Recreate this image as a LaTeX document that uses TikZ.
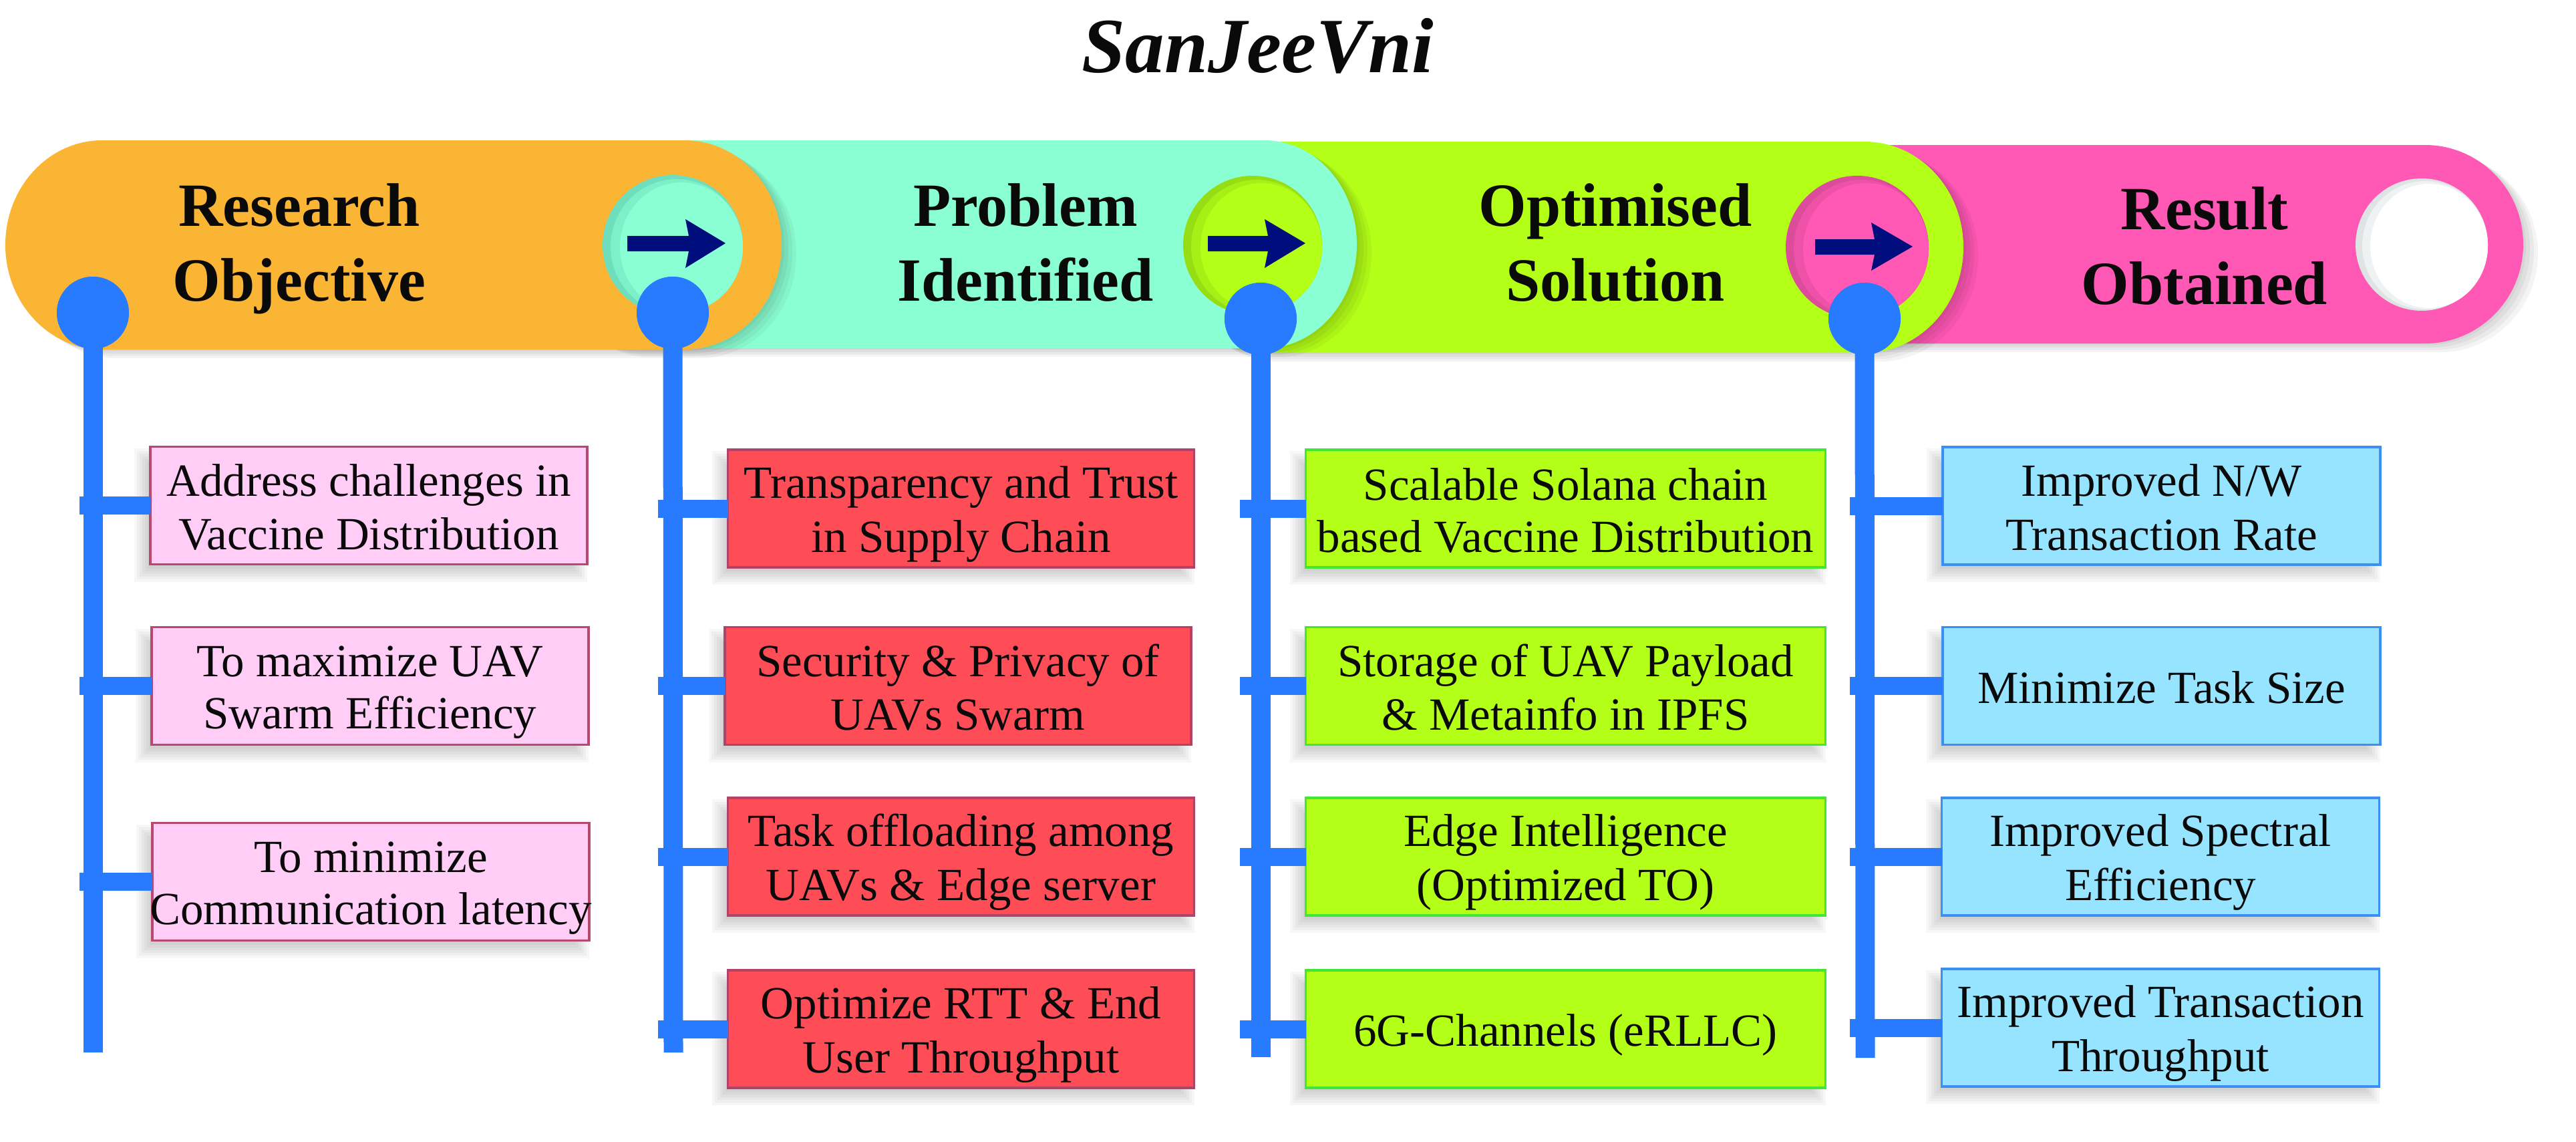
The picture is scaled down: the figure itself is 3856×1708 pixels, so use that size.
\documentclass[tikz,border=0pt]{standalone}
\usepackage{fontspec}
\setmainfont{Liberation Serif}
\pgfdeclarelayer{bglayer}
\pgfdeclarelayer{shadowlayer}
\pgfsetlayers{bglayer,shadowlayer,main}
\definecolor{orangeC}{RGB}{251,181,53}
\definecolor{tealC}{RGB}{139,255,212}
\definecolor{tealM}{RGB}{126,240,201}
\definecolor{tealD}{RGB}{110,222,188}
\definecolor{limeC}{RGB}{180,255,23}
\definecolor{limeM}{RGB}{166,240,21}
\definecolor{limeD}{RGB}{150,222,20}
\definecolor{pinkC}{RGB}{255,88,181}
\definecolor{pinkM}{RGB}{238,82,168}
\definecolor{pinkD}{RGB}{220,76,155}
\definecolor{holeM}{RGB}{238,242,242}
\definecolor{holeD}{RGB}{222,228,228}
\definecolor{pinC}{RGB}{40,123,255}
\definecolor{navyC}{RGB}{0,14,125}
\definecolor{fillA}{RGB}{255,205,246}
\definecolor{drawA}{RGB}{184,72,112}
\definecolor{fillB}{RGB}{255,77,88}
\definecolor{drawB}{RGB}{178,66,104}
\definecolor{fillC}{RGB}{180,255,23}
\definecolor{drawC}{RGB}{64,232,52}
\definecolor{fillD}{RGB}{150,228,255}
\definecolor{drawD}{RGB}{60,142,242}
\definecolor{txtC}{RGB}{10,10,10}
% pill: lcx rcx top bot rx ry style
\newcommand{\pillshape}[7]{%
  \path[#7] (#1,#3) -- (#2,#3) arc[start angle=-90,end angle=90,x radius=#5,y radius=#6]
    -- (#1,#4) arc[start angle=90,end angle=270,x radius=#5,y radius=#6] -- cycle;}
\newcommand{\pillshadow}[6]{%
  \foreach \s in {4,10,16,22}{%
    \begin{scope}[shift={(\s,0.6*\s)}]\pillshape{#1}{#2}{#3}{#4}{#5}{#6}{fill=black,opacity=0.045}\end{scope}}}
\newcommand{\boxshadow}[1]{%
  \begin{pgfonlayer}{shadowlayer}
  \foreach \e in {0,4,...,20}{%
    \fill[black,opacity=0.03] ([shift={(-4-\e,6+\e)}]#1.south west) rectangle ([shift={(-20+\e,22-\e)}]#1.north east);}
  \end{pgfonlayer}}
\newcommand{\bs}{\rule[-13pt]{0pt}{78pt}}
\newcommand{\hs}{\rule[-28pt]{0pt}{112pt}}
\begin{document}
\begin{tikzpicture}[x=1pt,y=-1pt,
  hdr/.style={align=center,inner sep=0pt,text=txtC,font=\fontsize{92}{112}\selectfont\bfseries},
  itembox/.style={draw,line width=3.5pt,minimum height=176pt,inner sep=0pt,outer sep=0pt,
     align=center,text=txtC,font=\fontsize{69}{78}\selectfont},
  boxA/.style={itembox,fill=fillA,draw=drawA,minimum width=654pt},
  boxB/.style={itembox,fill=fillB,draw=drawB,minimum width=698pt},
  boxC/.style={itembox,fill=fillC,draw=drawC,minimum width=778pt},
  boxD/.style={itembox,fill=fillD,draw=drawD,minimum width=655pt},
  pindot/.style={circle,fill=pinC,minimum size=108pt,inner sep=0pt,outer sep=0pt},
  vline/.style={draw=pinC,line width=29pt},
  stub/.style={draw=pinC,line width=27pt},
  headarrow/.style={fill=navyC}]
\useasboundingbox (0,0) rectangle (3856,1708);
\begin{pgfonlayer}{bglayer}
\fill[white] (0,0) rectangle (3856,1708);
\end{pgfonlayer}

% ---------- title ----------
\node[anchor=base,text=txtC,font=\fontsize{117}{130}\selectfont\bfseries\itshape] (title) at (1883,108) {SanJeeVni};

% ---------- pink tube ----------
\pillshadow{2700}{3630}{217}{514}{147}{148.5}
\pillshape{2700}{3630}{217}{514}{147}{148.5}{fill=pinkC}
\fill[holeD] (3625,366) circle[radius=99];
\fill[holeM] (3630,367) ellipse[x radius=94, y radius=96];
\fill[white] (3636,368) ellipse[x radius=88, y radius=93];

% ---------- lime tube ----------
\pillshadow{1893}{2791}{212}{528}{148}{158}
\pillshape{1893}{2791}{212}{528}{148}{158}{fill=limeC}
\fill[pinkD] (2780,370) circle[radius=107];
\fill[pinkM] (2786,372) ellipse[x radius=101, y radius=103];
\fill[pinkC] (2793,373) ellipse[x radius=94, y radius=99];
\fill[headarrow] (2717,358) -- (2806,358) -- (2801,333) -- (2863,369) -- (2801,405) -- (2806,381) -- (2717,381) -- cycle;

% ---------- teal tube ----------
\pillshadow{950}{1893}{210}{521}{138}{155.5}
\pillshape{950}{1893}{210}{521}{138}{155.5}{fill=tealC}
\fill[limeD] (1875,367) circle[radius=104];
\fill[limeM] (1881,369) ellipse[x radius=98, y radius=100];
\fill[limeC] (1888,370) ellipse[x radius=91, y radius=96];
\fill[headarrow] (1808,353) -- (1898,353) -- (1893,328) -- (1954,364) -- (1893,401) -- (1898,376) -- (1808,376) -- cycle;

% ---------- orange tube ----------
\pillshadow{153}{1025}{210}{523}{145}{156.5}
\pillshape{153}{1025}{210}{523}{145}{156.5}{fill=orangeC}
\fill[tealD] (1007,367) circle[radius=105];
\fill[tealM] (1013,369) ellipse[x radius=99, y radius=101];
\fill[tealC] (1020,370) ellipse[x radius=92, y radius=97];
\fill[headarrow] (939,353) -- (1031,353) -- (1026,328) -- (1086,364) -- (1026,401) -- (1031,376) -- (939,376) -- cycle;

% ---------- headings ----------
\node[hdr] (h1) at (448,366) {Research\hs\\Objective\hs};
\node[hdr] (h2) at (1535,366) {Problem\hs\\Identified\hs};
\node[hdr] (h3) at (2418,366) {Optimised\hs\\Solution\hs};
\node[hdr] (h4) at (3300,371) {Result\hs\\Obtained\hs};

% ---------- pins and vertical lines ----------
\coordinate (e1) at (139,1575);
\coordinate (e2) at (1008,1575);
\coordinate (e3) at (1887,1582);
\coordinate (e4) at (2792,1583);
\coordinate (k1) at (119,0);
\coordinate (k2) at (985,0);
\coordinate (k3) at (1856,0);
\coordinate (k4) at (2769,0);
\node[pindot] (p1) at (139,468) {};
\node[pindot] (p2) at (1007,468) {};
\node[pindot] (p3) at (1887,477) {};
\node[pindot] (p4) at (2791,477) {};
\draw[vline] (p1.center) -- (e1);
\draw[vline] (p2.center) -- (e2);
\draw[vline] (p3.center) -- (e3);
\draw[vline] (p4.center) -- (e4);
\node[pindot] at (p1) {};
\node[pindot] at (p2) {};
\node[pindot] at (p3) {};
\node[pindot] at (p4) {};

% ---------- column 1 ----------
\node[boxA] (b11) at (552,756.5) {Address challenges in\bs\\Vaccine Distribution\bs};
\node[boxA] (b12) at (554,1026.5) {To maximize UAV\bs\\Swarm Efficiency\bs};
\node[boxA] (b13) at (555,1319.5) {To minimize\bs\\\makebox[0pt]{Communication latency\bs}};
% ---------- column 2 ----------
\node[boxB] (b21) at (1438.5,761) {Transparency and Trust\bs\\in Supply Chain\bs};
\node[boxB] (b22) at (1434,1026.5) {Security \& Privacy of\bs\\UAVs Swarm\bs};
\node[boxB] (b23) at (1438.5,1282) {Task offloading among\bs\\UAVs \& Edge server\bs};
\node[boxB] (b24) at (1438.5,1540) {Optimize RTT \& End\bs\\User Throughput\bs};
% ---------- column 3 ----------
\node[boxC] (b31) at (2343.5,761) {Scalable Solana chain\bs\\based Vaccine Distribution\bs};
\node[boxC] (b32) at (2343.5,1026.5) {Storage of UAV Payload\bs\\\& Metainfo in IPFS\bs};
\node[boxC] (b33) at (2343.5,1282) {Edge Intelligence\bs\\(Optimized TO)\bs};
\node[boxC] (b34) at (2343.5,1540) {6G-Channels (eRLLC)\bs};
% ---------- column 4 ----------
\node[boxD] (b41) at (3235.5,757) {Improved N/W\bs\\Transaction Rate\bs};
\node[boxD] (b42) at (3235.5,1026.5) {Minimize Task Size\bs};
\node[boxD] (b43) at (3234,1282) {Improved Spectral\bs\\Efficiency\bs};
\node[boxD] (b44) at (3234,1538) {Improved Transaction\bs\\Throughput\bs};

\foreach \b in {b11,b12,b13,b21,b22,b23,b24,b31,b32,b33,b34,b41,b42,b43,b44}{\boxshadow{\b}}

% ---------- stubs ----------
\foreach \b in {b11,b12,b13}{\draw[stub] (k1 |- \b.west) -- (\b.west);}
\foreach \b in {b21,b22,b23,b24}{\draw[stub] (k2 |- \b.west) -- (\b.west);}
\foreach \b in {b31,b32,b33,b34}{\draw[stub] (k3 |- \b.west) -- (\b.west);}
\foreach \b in {b41,b42,b43,b44}{\draw[stub] (k4 |- \b.west) -- (\b.west);}
\end{tikzpicture}
\end{document}
